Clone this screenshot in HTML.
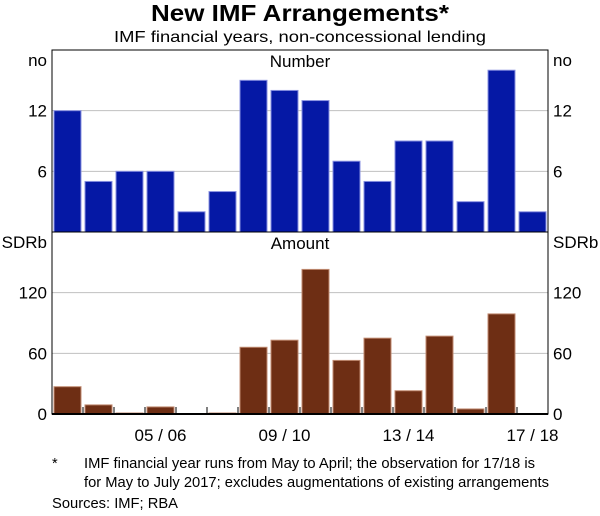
<!DOCTYPE html>
<html><head><meta charset="utf-8"><style>
body{margin:0;background:#fff;}
svg text{font-family:"Liberation Sans",Arial,sans-serif;fill:#000;}
</style></head><body>
<svg id="chart" width="600" height="511" viewBox="0 0 600 511" xmlns="http://www.w3.org/2000/svg">
<text x="300" y="21" text-anchor="middle" font-size="23" font-weight="bold" textLength="298" lengthAdjust="spacingAndGlyphs">New IMF Arrangements*</text>
<text x="300" y="42" text-anchor="middle" font-size="16" textLength="372" lengthAdjust="spacingAndGlyphs">IMF financial years, non-concessional lending</text>
<g id="plot"></g>
<text x="52" y="468" font-size="14.5">*</text>
<text x="84" y="468" font-size="14.5" textLength="451" lengthAdjust="spacingAndGlyphs">IMF financial year runs from May to April; the observation for 17/18 is</text>
<text x="84" y="487" font-size="14.5" textLength="465" lengthAdjust="spacingAndGlyphs">for May to July 2017; excludes augmentations of existing arrangements</text>
<text x="52" y="508" font-size="14.5" textLength="126" lengthAdjust="spacingAndGlyphs">Sources: IMF; RBA</text>
</svg>
<script>
const categories=["02/03","03/04","04/05","05/06","06/07","07/08","08/09","09/10","10/11","11/12","12/13","13/14","14/15","15/16","16/17","17/18"];
const numberValues=[12,5,6,6,2,4,15,14,13,7,5,9,9,3,16,2];
const amountValues=[27,9,1,7,0.3,1,66,73,143,53,75,23,77,5,99,0.5];
const numberTicks=[6,12];
const amountTicks=[0,60,120];
const xLabels=["05/06","09/10","13/14","17/18"];
const NS="http://www.w3.org/2000/svg";
const g=document.getElementById('plot');
const L=52,R=548;
const band=(R-L)/categories.length;
function mk(t,a){const e=document.createElementNS(NS,t);for(const k in a)e.setAttribute(k,a[k]);g.appendChild(e);return e;}
function panel(top,bot,max,vals,ticks,color,edge,title,unit,nm){
  const y=v=>bot-(v/max)*(bot-top);
  ticks.forEach(t=>{
    if(t>0){
      const l=mk('line',{x1:L,x2:R,y1:y(t),y2:y(t),stroke:'#c0c0c0','stroke-width':1});
      
      
    }
    [[L-5,'end'],[R+5,'start']].forEach(([x,a])=>{
      const tx=mk('text',{x:x,y:y(t)+6,'text-anchor':a,'font-size':17});tx.textContent=t;
      
      
    });
  });
  [[L-5,'end'],[R+5,'start']].forEach(([x,a])=>{
    const tx=mk('text',{x:x,y:top+16,'text-anchor':a,'font-size':17});tx.textContent=unit;
    
    
  });
  const tt=mk('text',{x:300,y:top+17,'text-anchor':'middle','font-size':17});tt.textContent=title;
  
  
  vals.forEach((v,i)=>{
    const x=L+band*i+2,h=bot-y(v);
    const b=mk('rect',{x:x,y:y(v),width:band-4,height:Math.max(h,0.5),fill:color,stroke:edge,'stroke-width':1});
    
    
  });
}
panel(50,232,18,numberValues,numberTicks,'#0518a5','#8890e0','Number','no','number');
panel(232,414,180,amountValues,amountTicks,'#6e2e14','#c08a70','Amount','SDRb','amount');
for(let i=1;i<categories.length;i++){
  const x=L+band*i;
  const t=mk('line',{x1:x,x2:x,y1:414,y2:407,stroke:'#000','stroke-width':1});
  
  
}
xLabels.forEach(lb=>{
  const i=categories.indexOf(lb);
  const tx=mk('text',{x:L+band*(i+0.5),y:441,'text-anchor':'middle','font-size':17});tx.textContent=lb.replace('/',' / ');
  
  
});
const f=mk('rect',{x:L,y:50,width:R-L,height:364,fill:'none',stroke:'#000','stroke-width':1});


const d=mk('line',{x1:L,x2:R,y1:232,y2:232,stroke:'#000','stroke-width':1});


const ax=mk('line',{x1:L,x2:R,y1:414,y2:414,stroke:'#000','stroke-width':2});


</script>
</body></html>
